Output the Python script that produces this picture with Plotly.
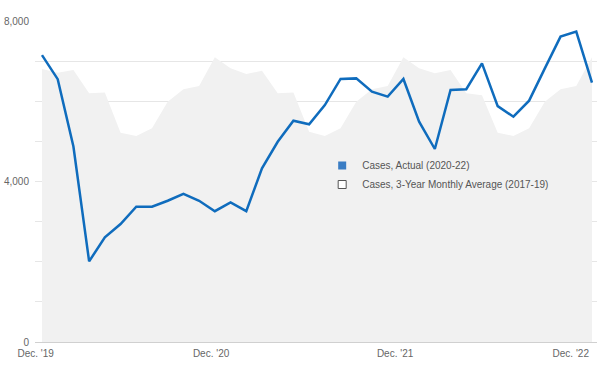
import plotly.graph_objects as go

months = list(range(36))  # Dec '19 .. Nov '22, monthly index
actual = [7150, 6550, 4870, 2010, 2610, 2940, 3370, 3370, 3520, 3690, 3520, 3260,
          3480, 3260, 4330, 4990, 5515, 5425, 5905, 6555, 6570, 6240, 6115, 6555,
          5490, 4810, 6280, 6300, 6945, 5880, 5615, 6015, 6820, 7610, 7735, 6465]
avg3yr = [6805, 6710, 6780, 6200, 6215, 5215, 5135, 5325, 5990, 6300, 6380, 7095,
          6820, 6680, 6760, 6200, 6215, 5240, 5135, 5325, 5990, 6300, 6380, 7095,
          6820, 6700, 6780, 6200, 6150, 5215, 5135, 5325, 5990, 6300, 6380, 7095]
x_tick_pos = [-0.4, 10.76, 22.47, 33.65]
x_tick_text = ["Dec. '19", "Dec. '20", "Dec. '21", "Dec. '22"]
y_tick_vals = [0, 1000, 2000, 3000, 4000, 5000, 6000, 7000, 8000]
y_tick_text = ["0", "", "", "", "4,000", "", "", "", "8,000"]

BLUE = "#0f6cbd"
FILL = "#f1f1f1"

fig = go.Figure()
fig.add_trace(go.Scatter(x=months, y=avg3yr, mode="lines", line=dict(width=0, color=FILL),
                         fill="tozeroy", fillcolor=FILL, showlegend=False, hoverinfo="skip"))
fig.add_trace(go.Scatter(x=months, y=actual, mode="lines", line=dict(width=2.5, color=BLUE),
                         showlegend=False))
# legend entries
fig.add_trace(go.Scatter(x=[None], y=[None], mode="markers", name="Cases, Actual (2020-22)",
                         marker=dict(symbol="square", size=8, color="#3a7dc4")))
fig.add_trace(go.Scatter(x=[None], y=[None], mode="markers",
                         name="Cases, 3-Year Monthly Average (2017-19)",
                         marker=dict(symbol="square", size=8, color="white",
                                     line=dict(color="#555", width=1))))

fig.update_layout(
    width=600, height=368,
    margin=dict(l=35, r=3, t=21, b=26),
    paper_bgcolor="white", plot_bgcolor="white",
    font=dict(family="Liberation Sans, Arial, sans-serif", size=10, color="#666"),
    legend=dict(x=0.511, y=0.595, xanchor="left", yanchor="top",
                bgcolor="rgba(0,0,0,0)", font=dict(size=10, color="#555"),
                itemwidth=30, tracegroupgap=0),
    xaxis=dict(range=[-0.445, 35.32], tickvals=x_tick_pos, ticktext=x_tick_text,
               showgrid=False, zeroline=False, showline=True, linecolor="#d0d0d0",
               linewidth=1, ticks="", automargin=False, ticklabelstandoff=2,
               tickfont=dict(size=10, color="#666")),
    yaxis=dict(range=[0, 8000], tickvals=y_tick_vals, ticktext=y_tick_text,
               showgrid=True, gridcolor="#e6e6e6", gridwidth=1, zeroline=False,
               ticks="", automargin=False, ticklabelstandoff=5,
               tickfont=dict(size=10, color="#666")),
)

fig.write_html("out.html", config={"displayModeBar": False},
               post_script="document.body.style.margin='0';")
